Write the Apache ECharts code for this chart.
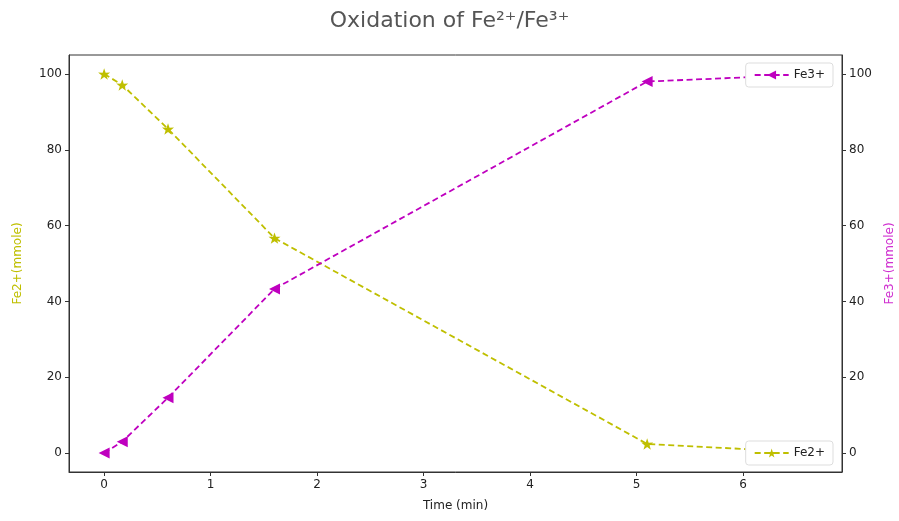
<!DOCTYPE html>
<html><head><meta charset="utf-8">
<script src="https://cdn.jsdelivr.net/npm/echarts@6/dist/echarts.min.js"></script>
<style>html,body{margin:0;padding:0;background:#fff}#c{width:899px;height:521px}</style>
</head><body><div id="c"></div>
<script>
const times = [0, 0.17, 0.6, 1.6, 5.1, 6.6];
const fe2 = [100, 97.1, 85.5, 56.7, 2.4, 0.2];
const fe3 = [0, 3.0, 14.6, 43.3, 98.0, 99.8];
const xTicks = [0, 1, 2, 3, 4, 5, 6];
const yTicks = [0, 20, 40, 60, 80, 100];

const star = 'path://M50,0 L61.8,35.1 L97.6,34.5 L69.1,56.9 L79.4,90.5 L50,70 L20.6,90.5 L30.9,56.9 L2.4,34.5 L38.2,35.1 Z';
const cY = '#bfbf00', cM = '#bf00bf';
const font = 'DejaVu Sans';
const chart = echarts.init(document.getElementById('c'));
const yAxisBase = {
  type: 'value', min: -5, max: 105,
  splitLine: {show: false},
  axisLine: {show: true, onZero: false, lineStyle: {color: '#333'}},
  axisTick: {show: true, length: 4, lineStyle: {color: '#333'}, customValues: yTicks},
  axisLabel: {color: '#222', fontFamily: font, fontSize: 12, margin: 7, customValues: yTicks},
  nameLocation: 'middle', nameTextStyle: {fontFamily: font, fontSize: 12}
};
const legendBase = {orient: 'vertical', itemWidth: 34, itemHeight: 11, itemGap: 4,
  backgroundColor: '#fff', borderColor: '#ddd', borderWidth: 1, borderRadius: 3,
  padding: [6, 8, 6, 8], z: 10,
  textStyle: {fontFamily: font, fontSize: 12, color: '#222'}};
chart.setOption({
  animation: false,
  title: {text: 'Oxidation of Fe²⁺/Fe³⁺', left: 'center', top: 5,
    textStyle: {color: '#555', fontFamily: font, fontSize: 22, fontWeight: 'normal'}},
  grid: {left: 69, right: 57, top: 55, bottom: 49, show: true, borderColor: '#333', borderWidth: 1,
    outerBoundsMode: 'none', containLabel: false},
  legend: [
    Object.assign({}, legendBase, {data: ['Fe3+'], right: 66, top: 63}),
    Object.assign({}, legendBase, {data: ['Fe2+'], right: 66, bottom: 56})
  ],
  xAxis: {
    type: 'value', min: -0.33, max: 6.93,
    name: 'Time (min)', nameLocation: 'middle', nameGap: 28,
    nameTextStyle: {fontFamily: font, fontSize: 12, color: '#222'},
    splitLine: {show: false},
    axisLine: {show: true, onZero: false, lineStyle: {color: '#333'}},
    axisTick: {show: true, length: 4, lineStyle: {color: '#333'}, customValues: xTicks},
    axisLabel: {color: '#222', fontFamily: font, fontSize: 12, margin: 7, customValues: xTicks}
  },
  yAxis: [
    Object.assign({}, yAxisBase, {position: 'left', name: 'Fe2+(mmole)', nameGap: 45,
      nameTextStyle: {fontFamily: font, fontSize: 12, color: cY}}),
    Object.assign({}, yAxisBase, {position: 'right', name: 'Fe3+(mmole)', nameGap: 42,
      nameTextStyle: {fontFamily: font, fontSize: 12, color: '#d030d0'}})
  ],
  series: [
    {name: 'Fe2+', type: 'line', yAxisIndex: 0, z: 3,
     data: times.map((t, i) => [t, fe2[i]]),
     symbol: star, symbolSize: 12, symbolKeepAspect: true,
     itemStyle: {color: cY}, lineStyle: {color: cY, width: 1.8, type: [6, 3.5]}},
    {name: 'Fe3+', type: 'line', yAxisIndex: 1, z: 3,
     data: times.map((t, i) => [t, fe3[i]]),
     symbol: 'triangle', symbolRotate: 90, symbolSize: 11,
     itemStyle: {color: cM}, lineStyle: {color: cM, width: 1.8, type: [6, 3.5]}}
  ]
});
</script></body></html>
